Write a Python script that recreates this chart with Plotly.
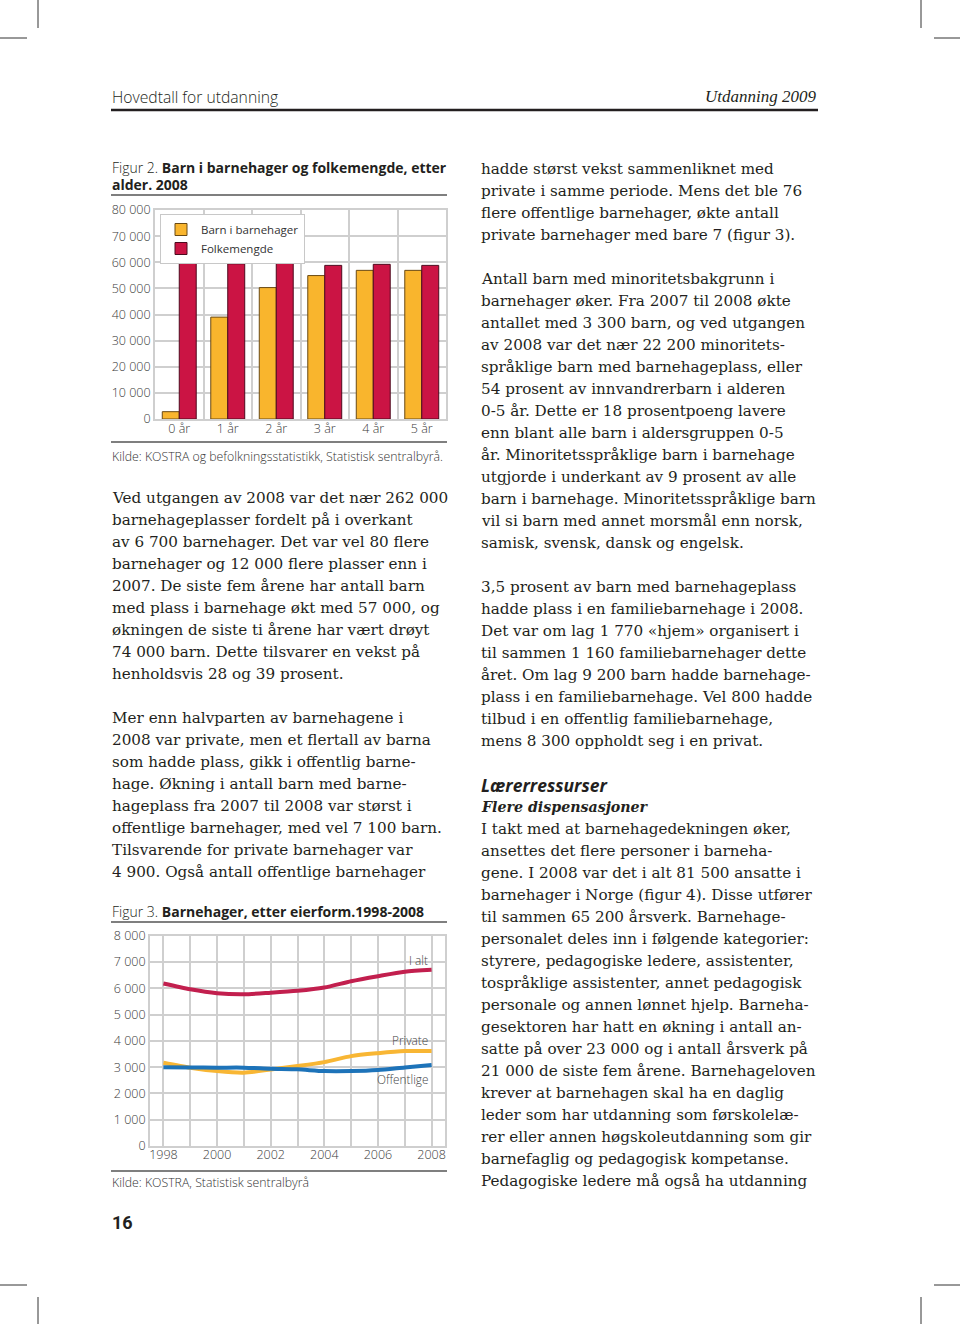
import plotly.graph_objects as go

W, H = 960, 1324

# ---------------- data ----------------
ages = ["0 år", "1 år", "2 år", "3 år", "4 år", "5 år"]
barn_i_barnehager = [2800, 39000, 50300, 54900, 56900, 56900]
folkemengde = [60300, 59400, 60000, 58800, 59200, 58800]

years = [1998, 1999, 2000, 2001, 2002, 2003, 2004, 2005, 2006, 2007, 2008]
year_labels = ["1998", "", "2000", "", "2002", "", "2004", "", "2006", "", "2008"]
i_alt = [6180, 5960, 5810, 5770, 5830, 5905, 6030, 6270, 6460, 6630, 6705]
private = [3170, 2980, 2850, 2790, 2910, 3040, 3190, 3420, 3530, 3610, 3615]
offentlige = [3000, 2990, 2980, 2980, 2940, 2915, 2850, 2850, 2890, 2990, 3085]

# page texts
left_par1 = [
    "Ved utgangen av 2008 var det nær 262 000",
    "barnehageplasser fordelt på i overkant",
    "av 6 700 barnehager. Det var vel 80 flere",
    "barnehager og 12 000 flere plasser enn i",
    "2007. De siste fem årene har antall barn",
    "med plass i barnehage økt med 57 000, og",
    "økningen de siste ti årene har vært drøyt",
    "74 000 barn. Dette tilsvarer en vekst på",
    "henholdsvis 28 og 39 prosent.",
]
left_par2 = [
    "Mer enn halvparten av barnehagene i",
    "2008 var private, men et flertall av barna",
    "som hadde plass, gikk i offentlig barne-",
    "hage. Økning i antall barn med barne-",
    "hageplass fra 2007 til 2008 var størst i",
    "offentlige barnehager, med vel 7 100 barn.",
    "Tilsvarende for private barnehager var",
    "4 900. Også antall offentlige barnehager",
]
right_par1 = [
    "hadde størst vekst sammenliknet med",
    "private i samme periode. Mens det ble 76",
    "flere offentlige barnehager, økte antall",
    "private barnehager med bare 7 (figur 3).",
]
right_par2 = [
    "Antall barn med minoritetsbakgrunn i",
    "barnehager øker. Fra 2007 til 2008 økte",
    "antallet med 3 300 barn, og ved utgangen",
    "av 2008 var det nær 22 200 minoritets-",
    "språklige barn med barnehageplass, eller",
    "54 prosent av innvandrerbarn i alderen",
    "0-5 år. Dette er 18 prosentpoeng lavere",
    "enn blant alle barn i aldersgruppen 0-5",
    "år. Minoritetsspråklige barn i barnehage",
    "utgjorde i underkant av 9 prosent av alle",
    "barn i barnehage. Minoritetsspråklige barn",
    "vil si barn med annet morsmål enn norsk,",
    "samisk, svensk, dansk og engelsk.",
]
right_par3 = [
    "3,5 prosent av barn med barnehageplass",
    "hadde plass i en familiebarnehage i 2008.",
    "Det var om lag 1 770 «hjem» organisert i",
    "til sammen 1 160 familiebarnehager dette",
    "året. Om lag 9 200 barn hadde barnehage-",
    "plass i en familiebarnehage. Vel 800 hadde",
    "tilbud i en offentlig familiebarnehage,",
    "mens 8 300 oppholdt seg i en privat.",
]
right_par4 = [
    "I takt med at barnehagedekningen øker,",
    "ansettes det flere personer i barneha-",
    "gene. I 2008 var det i alt 81 500 ansatte i",
    "barnehager i Norge (figur 4). Disse utfører",
    "til sammen 65 200 årsverk. Barnehage-",
    "personalet deles inn i følgende kategorier:",
    "styrere, pedagogiske ledere, assistenter,",
    "tospråklige assistenter, annet pedagogisk",
    "personale og annen lønnet hjelp. Barneha-",
    "gesektoren har hatt en økning i antall an-",
    "satte på over 23 000 og i antall årsverk på",
    "21 000 de siste fem årene. Barnehageloven",
    "krever at barnehagen skal ha en daglig",
    "leder som har utdanning som førskolelæ-",
    "rer eller annen høgskoleutdanning som gir",
    "barnefaglig og pedagogisk kompetanse.",
    "Pedagogiske ledere må også ha utdanning",
]

# ---------------- style ----------------
ORANGE = "#F9B52D"
RED = "#CB1444"
LINE_RED = "#C21F4E"
LINE_ORANGE = "#F8B634"
BLUE = "#1D73B9"
GRID = "#cfcfcf"
TXT = "#231f20"
SANS = "Open Sans"
SERIF = "DejaVu Serif"


def px(x):
    return x / W


def py(y):
    return 1 - y / H


fig = go.Figure()

fig.add_trace(go.Bar(x=ages, y=barn_i_barnehager, name="Barn i barnehager",
                     marker=dict(color=ORANGE, line=dict(color="#6a4a14", width=1)),
                     xaxis="x", yaxis="y"))
fig.add_trace(go.Bar(x=ages, y=folkemengde, name="Folkemengde",
                     marker=dict(color=RED, line=dict(color="#4d0a1e", width=1)),
                     xaxis="x", yaxis="y"))

fig.add_trace(go.Scatter(x=years, y=private, mode="lines", showlegend=False,
                         line=dict(color=LINE_ORANGE, width=4, shape="spline", smoothing=0.7),
                         xaxis="x2", yaxis="y2"))
fig.add_trace(go.Scatter(x=years, y=offentlige, mode="lines", showlegend=False,
                         line=dict(color=BLUE, width=4, shape="spline", smoothing=0.7),
                         xaxis="x2", yaxis="y2"))
fig.add_trace(go.Scatter(x=years, y=i_alt, mode="lines", showlegend=False,
                         line=dict(color=LINE_RED, width=4, shape="spline", smoothing=0.7),
                         xaxis="x2", yaxis="y2"))

tickfont = dict(family=SANS, size=12.5, color="#3a3a3a", weight=300)

axis_common = dict(showgrid=True, gridcolor=GRID, gridwidth=1.8, showline=True, mirror=True,
                   linecolor=GRID, linewidth=1.8, ticks="", zeroline=False, automargin=False,
                   tickfont=tickfont, fixedrange=True)

fig.update_layout(
    template="none",
    width=W, height=H, margin=dict(l=0, r=0, t=0, b=0, pad=0, autoexpand=False),
    paper_bgcolor="white", plot_bgcolor="white",
    barmode="group", bargap=0.3, bargroupgap=0,
    separators=", ",
    xaxis=dict(domain=[px(155), px(446)], anchor="y", type="category",
               tickson="boundaries", range=[-0.5, 5.5], ticklabelstandoff=-3, **axis_common),
    yaxis=dict(domain=[py(419), py(210)], anchor="x", range=[0, 80000], dtick=10000,
               tickformat=",d", **axis_common),
    xaxis2=dict(domain=[px(150), px(445)], anchor="y2", range=[1997.5, 2008.5],
                tickvals=years, ticktext=year_labels, ticklabelstandoff=-4, **axis_common),
    yaxis2=dict(domain=[py(1146), py(935.7)], anchor="x2", range=[0, 8000], dtick=1000,
                tickformat=",d", **axis_common),
    legend=dict(x=px(160), y=py(214), xanchor="left", yanchor="top",
                bgcolor="white", bordercolor="#c8c8c8", borderwidth=1,
                font=dict(family=SANS, size=11.5, color="#333333"),
                tracegroupgap=0, itemwidth=30),
    showlegend=True,
)

ann = []


def text(x, y, s, size=15, family=SERIF, color=TXT, anchor="left", **kw):
    ann.append(dict(x=px(x), y=py(y), xref="paper", yref="paper", text=s, showarrow=False,
                    xanchor=anchor, yanchor="middle",
                    font=dict(family=family, size=size, color=color, **kw)))


def para(x, y0, lines):
    for i, s in enumerate(lines):
        text(x, y0 + 22 * i, s, size=15.2)


# header
text(110, 97, "Hovedtall for utdanning", size=15.7, family=SANS, color=TXT, weight=300)
text(818, 97, "<i>Utdanning 2009</i>", size=17, family="Liberation Serif", anchor="right")

# figure 2 titles
text(110, 167, "<span style='font-weight:300'>Figur 2. </span><b>Barn i barnehager og folkemengde, etter</b>",
     size=14, family=SANS)
text(110, 185, "<b>alder. 2008</b>", size=14, family=SANS)
text(110, 456, "Kilde: KOSTRA og befolkningsstatistikk, Statistisk sentralbyrå.",
     size=12.3, family=SANS, color="#333333", weight=300)

# figure 3 titles
text(110, 911, "<span style='font-weight:300'>Figur 3. </span><b>Barnehager, etter eierform.1998-2008</b>",
     size=14, family=SANS)
text(110, 1182, "Kilde: KOSTRA, Statistisk sentralbyrå", size=12.3, family=SANS,
     color="#333333", weight=300)

# line labels in figure 3
for lx, ly, s in [(2007.5, 7070, "I alt"), (2007.2, 4030, "Private"), (2006.9, 2550, "Offentlige")]:
    ann.append(dict(x=lx, y=ly, xref="x2", yref="y2", text=s, showarrow=False,
                    font=dict(family=SANS, size=11.8, color="#444444", weight=300)))

# body text
para(110, 498, left_par1)
para(110, 718, left_par2)
para(479, 169, right_par1)
para(479, 279, right_par2)
para(479, 587, right_par3)
text(479, 785, "<b><i>Lærerressurser</i></b>", size=17.5, family=SANS)
text(479, 807, "<b><i>Flere dispensasjoner</i></b>", size=14.2, family=SERIF)
para(479, 829, right_par4)

# page number
text(110, 1222, "<b>16</b>", size=18, family="Roboto")

fig.update_layout(annotations=ann)

shapes = []


def hline(x0, x1, y, w=1.2, c="#333333"):
    shapes.append(dict(type="line", xref="paper", yref="paper", x0=px(x0), x1=px(x1),
                       y0=py(y), y1=py(y), line=dict(color=c, width=w)))


def vline(x, y0, y1, w=1, c="#333333"):
    shapes.append(dict(type="line", xref="paper", yref="paper", x0=px(x), x1=px(x),
                       y0=py(y0), y1=py(y1), line=dict(color=c, width=w)))


hline(111, 818, 110, w=2.4, c=TXT)
hline(111, 447, 195, w=1.3, c="#555555")
hline(111, 447, 442, w=1.3, c="#555555")
hline(111, 447, 922, w=1.3, c="#555555")
hline(111, 447, 1171, w=1.3, c="#555555")

# crop marks
vline(38, 0, 28)
vline(921, 0, 28)
hline(0, 27, 38, w=1)
hline(934, 960, 38, w=1)
vline(38, 1297, 1324)
vline(921, 1297, 1324)
hline(0, 27, 1285, w=1)
hline(934, 960, 1285, w=1)

fig.update_layout(shapes=shapes)

fig.write_html("out.html", config={"displayModeBar": False},
               post_script="document.body.style.margin='0px';")
